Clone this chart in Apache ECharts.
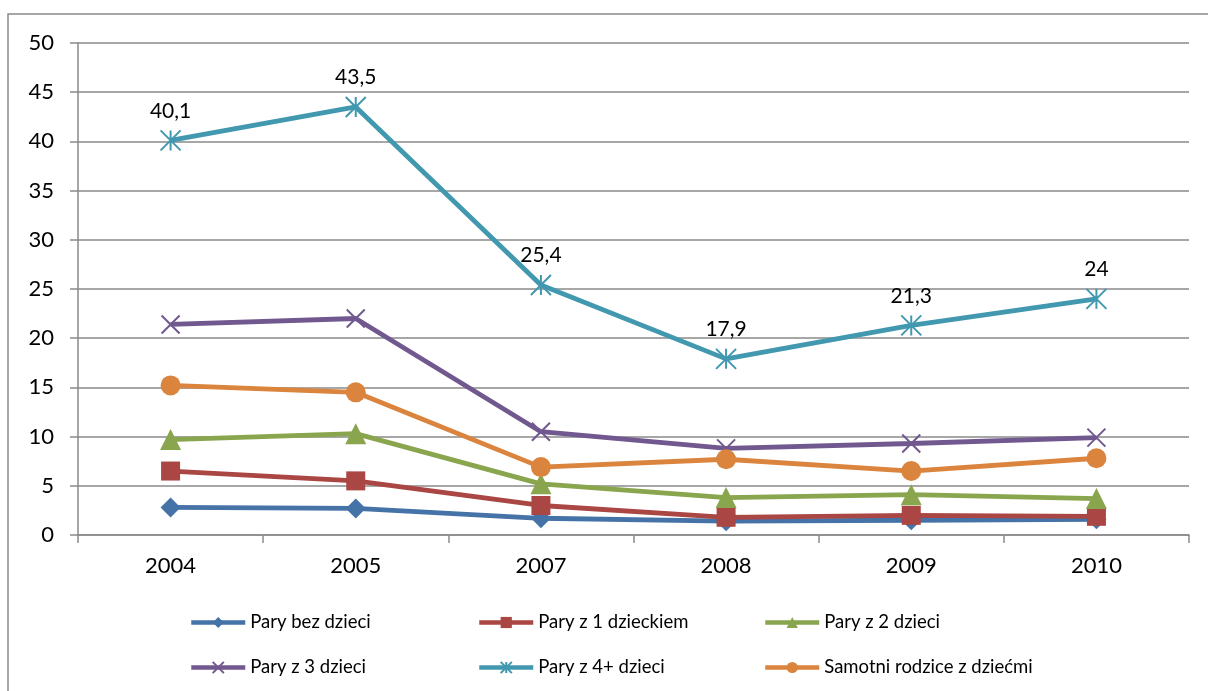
<!DOCTYPE html>
<html>
<head>
<meta charset="utf-8">
<script src="https://cdn.jsdelivr.net/npm/echarts@6/dist/echarts.min.js"></script>
<style>
    html, body { margin: 0; padding: 0; background: #fff; }
    #chart { width: 1208px; height: 691px; }
</style>
</head>
<body>
<div id="chart"></div>
<script>
// Data
const years = ['2004', '2005', '2007', '2008', '2009', '2010'];
const seriesNames = [
    'Pary bez dzieci',
    'Pary z 1 dzieckiem',
    'Pary z 2 dzieci',
    'Pary z 3 dzieci',
    'Pary z 4+ dzieci',
    'Samotni rodzice z dziećmi'
];
const paryBezDzieci = [2.8, 2.7, 1.7, 1.4, 1.5, 1.6];
const paryZ1 = [6.5, 5.5, 3.0, 1.8, 2.0, 1.9];
const paryZ2 = [9.7, 10.3, 5.2, 3.8, 4.1, 3.7];
const paryZ3 = [21.4, 22.0, 10.5, 8.8, 9.3, 9.9];
const paryZ4 = [40.1, 43.5, 25.4, 17.9, 21.3, 24];
const samotni = [15.2, 14.5, 6.9, 7.7, 6.5, 7.8];

const FONT = 'Lato';
const GRID_COLOR = '#8a8a8a';

const CROSS = 'path://M0,0L10,10M10,0L0,10';
const ASTERISK = 'path://M0,0L10,10M10,0L0,10M5,0L5,10';

function lineSeries(name, data, color, symbol, size, stroked) {
    return {
        name: name,
        type: 'line',
        data: data,
        symbol: symbol,
        symbolSize: size,
        showAllSymbol: true,
        lineStyle: { color: color, width: 4.8 },
        itemStyle: stroked
            ? { color: color, borderColor: color, borderWidth: 2 }
            : { color: color, borderWidth: 0 },
        emphasis: { disabled: true }
    };
}

const chart = echarts.init(document.getElementById('chart'));

const teal = lineSeries(seriesNames[4], paryZ4, '#4198AF', ASTERISK, 20, true);
teal.label = {
    show: true,
    position: 'top',
    distance: 8,
    color: '#000',
    fontFamily: FONT,
    fontSize: 21,
    formatter: (p) => String(p.value).replace('.', ',')
};

const legendText = { fontFamily: FONT, fontSize: 18.5, color: '#000' };
function legendColumn(left, names) {
    return {
        orient: 'vertical',
        left: left,
        top: 613,
        itemWidth: 54,
        itemHeight: 14,
        itemGap: 26,
        padding: 0,
        textStyle: legendText,
        lineStyle: { width: 4.5 },
        data: names
    };
}

chart.setOption({
    animation: false,
    backgroundColor: '#fff',
    graphic: [{
        type: 'rect',
        shape: { x: 8, y: 14, width: 1220, height: 700 },
        style: { fill: 'none', stroke: GRID_COLOR, lineWidth: 1.5 },
        silent: true
    }],
    grid: { left: 78, right: 19, top: 43, bottom: 156 },
    legend: [
        legendColumn(189, [seriesNames[0], seriesNames[3]]),
        legendColumn(477, [seriesNames[1], seriesNames[4]]),
        legendColumn(763, [seriesNames[2], seriesNames[5]])
    ],
    xAxis: {
        type: 'category',
        data: years,
        boundaryGap: true,
        axisLine: { lineStyle: { color: GRID_COLOR, width: 1.5 } },
        axisTick: { show: true, length: 8, lineStyle: { color: GRID_COLOR, width: 1.5 } },
        axisLabel: { color: '#000', fontFamily: FONT, fontSize: 22, margin: 20 }
    },
    yAxis: {
        type: 'value',
        min: 0,
        max: 50,
        interval: 5,
        axisLine: { show: true, lineStyle: { color: GRID_COLOR, width: 1.5 } },
        axisTick: { show: true, length: 8, lineStyle: { color: GRID_COLOR, width: 1.5 } },
        splitLine: { lineStyle: { color: GRID_COLOR, width: 1.5 } },
        axisLabel: { color: '#000', fontFamily: FONT, fontSize: 22, margin: 24 }
    },
    series: [
        lineSeries(seriesNames[0], paryBezDzieci, '#4572A7', 'diamond', 20, false),
        lineSeries(seriesNames[1], paryZ1, '#AA4643', 'rect', 19, false),
        lineSeries(seriesNames[2], paryZ2, '#89A54E', 'triangle', 21, false),
        lineSeries(seriesNames[3], paryZ3, '#71588F', CROSS, 18, true),
        teal,
        lineSeries(seriesNames[5], samotni, '#DB843D', 'circle', 20, false)
    ]
});
</script>
</body>
</html>
